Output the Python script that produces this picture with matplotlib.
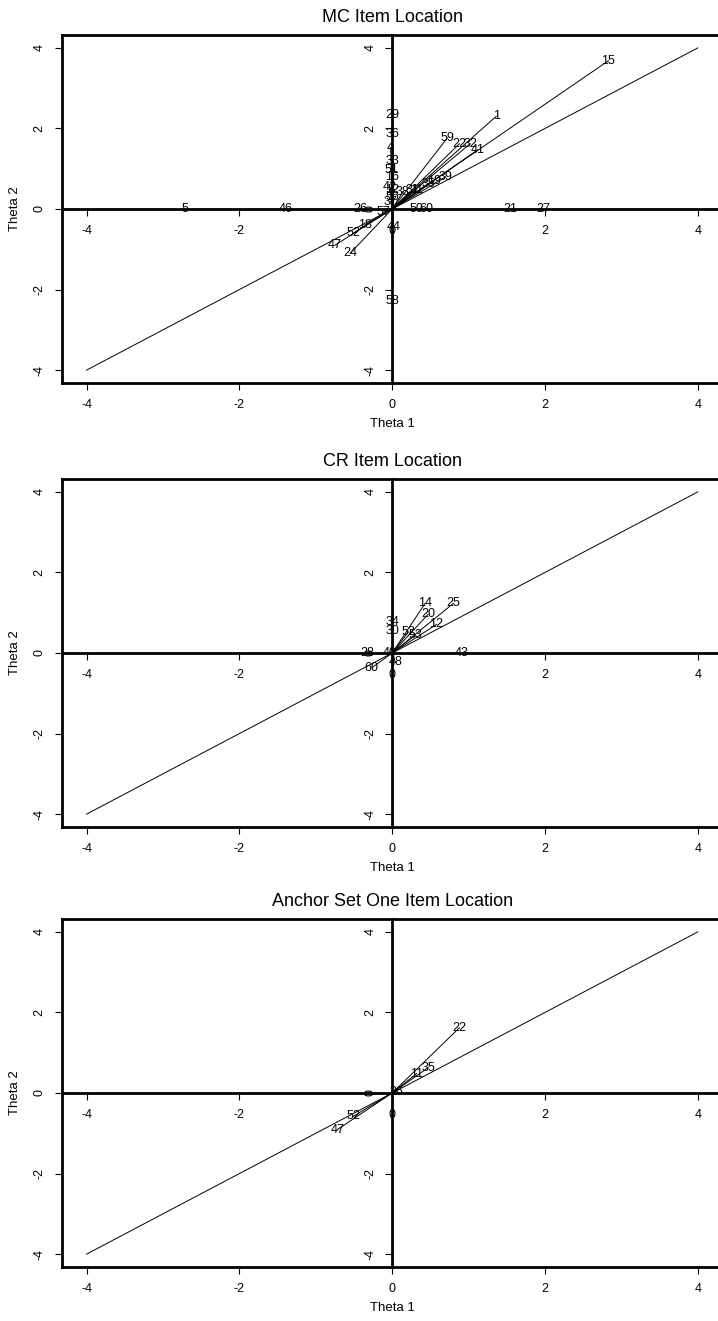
import matplotlib
matplotlib.use("Agg")
import matplotlib.pyplot as plt

plt.rcParams["font.family"] = ["Liberation Sans", "DejaVu Sans"]

# MC items: label, theta1, theta2 end points
mc_labels = ["15", "1", "59", "22", "32", "41", "29", "36", "4", "33", "51", "16",
             "42", "12", "55", "37", "39", "19", "35", "11", "31", "38", "26", "57",
             "18", "52", "47", "24", "44", "5", "46", "21", "27", "50", "60", "58"]
mc_x = [2.83, 1.36, 0.72, 0.88, 1.02, 1.12, 0.0, 0.0, -0.02, 0.0, -0.01, 0.0,
        -0.03, 0.0, 0.0, -0.02, 0.70, 0.55, 0.47, 0.32, 0.27, 0.14, -0.42, -0.12,
        -0.36, -0.51, -0.75, -0.55, 0.02, -2.71, -1.40, 1.54, 1.98, 0.32, 0.45, 0.0]
mc_y = [3.68, 2.30, 1.76, 1.62, 1.62, 1.47, 2.33, 1.86, 1.52, 1.19, 0.97, 0.79,
        0.54, 0.47, 0.30, 0.18, 0.80, 0.70, 0.63, 0.48, 0.47, 0.43, 0.0, -0.08,
        -0.40, -0.60, -0.90, -1.10, -0.44, 0.0, 0.0, 0.0, 0.0, 0.0, 0.0, -2.28]

# CR items
cr_labels = ["14", "25", "20", "12", "34", "30", "52", "53", "43", "28", "40", "60", "48"]
cr_x = [0.43, 0.80, 0.47, 0.58, 0.0, 0.0, 0.21, 0.30, 0.91, -0.33, -0.03, -0.27, 0.04]
cr_y = [1.23, 1.23, 0.96, 0.71, 0.78, 0.55, 0.52, 0.44, 0.0, 0.0, 0.0, -0.37, -0.22]

# Anchor set one items
an_labels = ["22", "35", "11", "36", "52", "47"]
an_x = [0.88, 0.47, 0.32, 0.05, -0.51, -0.72]
an_y = [1.62, 0.63, 0.48, 0.03, -0.58, -0.91]

ticks = [-4, -2, 0, 2, 4]
tick_labels = ["-4", "-2", "0", "2", "4"]

W, H = 718, 1321
panels = [
    ("MC Item Location", mc_labels, mc_x, mc_y, 35),
    ("CR Item Location", cr_labels, cr_x, cr_y, 479),
    ("Anchor Set One Item Location", an_labels, an_x, an_y, 919),
]


def style_axis(ax, visible):
    for side, sp in ax.spines.items():
        sp.set_linewidth(2)
        sp.set_visible(side in visible)
    ax.set_xticks(ticks)
    ax.set_yticks(ticks)
    ax.set_xticklabels(tick_labels)
    ax.set_yticklabels(tick_labels)
    ax.tick_params(direction="out", length=5, width=0.8, labelsize=9, pad=6.5)
    for lbl in ax.get_yticklabels():
        lbl.set_rotation(90)
        lbl.set_va("center")


fig = plt.figure(figsize=(W / 100, H / 100), dpi=100)
for title, labels, xs, ys, top in panels:
    pos = [61.7 / W, 1 - (top + 348) / H, 661 / W, 348 / H]
    ax = fig.add_axes(pos)
    ax.set_xlim(-4.326, 4.326)
    ax.set_ylim(-4.32, 4.32)
    style_axis(ax, ["left", "bottom", "top", "right"])

    # diagonal reference line
    ax.plot([-4, 4], [-4, 4], color="black", lw=0.7)
    for lab, x, y in zip(labels, xs, ys):
        ax.plot([0, x], [0, y], color="black", lw=0.7)
        ax.text(x, y, lab, fontsize=9, ha="center", va="center")

    ax.set_title(title, fontsize=13, pad=9)
    ax.set_xlabel("Theta 1", fontsize=9.5, labelpad=5)
    ax.set_ylabel("Theta 2", fontsize=9.5, labelpad=9)

    # axes through the origin
    ax2 = fig.add_axes(pos, sharex=ax, sharey=ax)
    ax2.patch.set_visible(False)
    ax2.spines["left"].set_position(("data", 0))
    ax2.spines["bottom"].set_position(("data", 0))
    style_axis(ax2, ["left", "bottom"])

fig.savefig("out.png", dpi=100)
